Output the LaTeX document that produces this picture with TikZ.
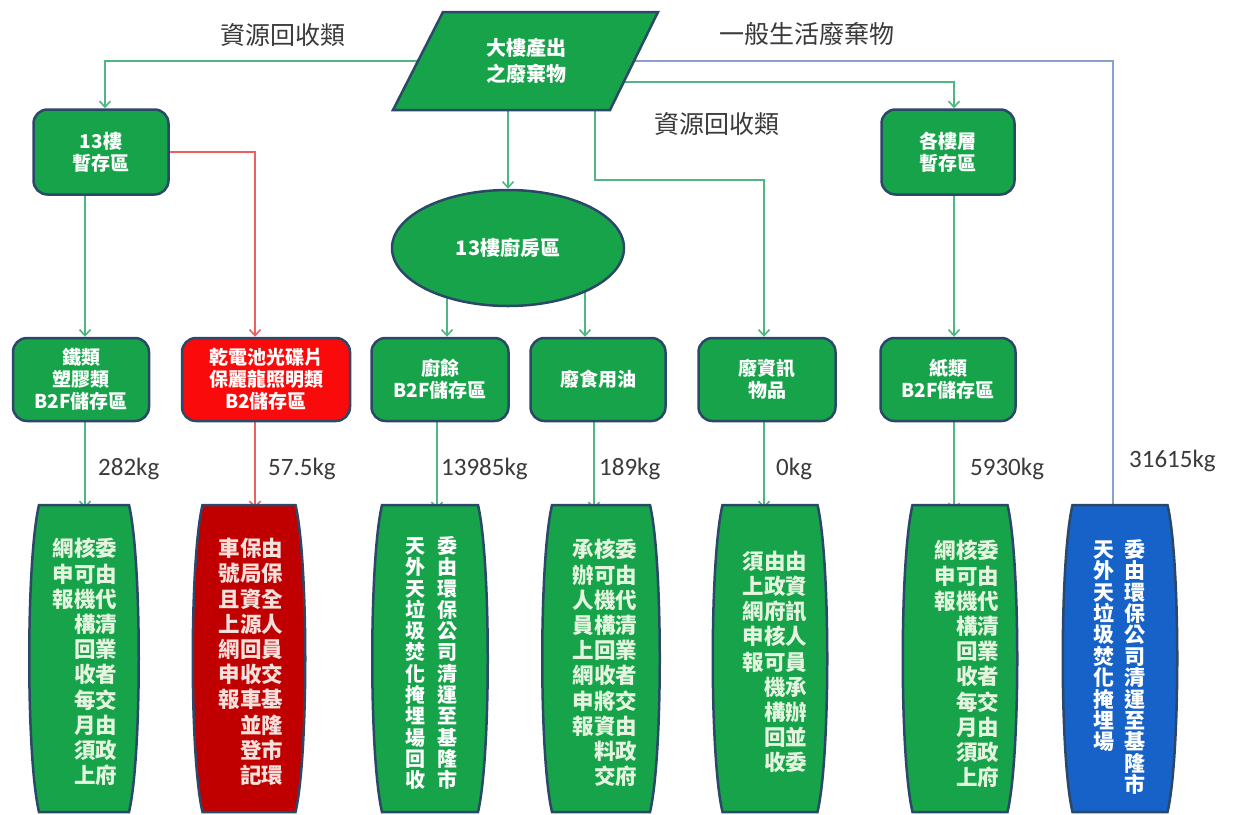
\documentclass[tikz,border=0pt]{standalone}
\usepackage{fontspec}
\setmainfont{Carlito}
\newfontfamily\cjk{Noto Sans CJK TC}
\usetikzlibrary{shapes.geometric,arrows.meta,backgrounds}
\definecolor{gfill}{RGB}{22,163,74}
\definecolor{bord}{RGB}{44,72,104}
\definecolor{glinec}{RGB}{78,182,128}
\definecolor{rlinec}{RGB}{238,96,96}
\definecolor{blinec}{RGB}{138,160,205}
\definecolor{rfill}{RGB}{250,10,10}
\definecolor{drfill}{RGB}{192,0,0}
\definecolor{bfill}{RGB}{22,98,200}
\definecolor{lbl}{RGB}{58,58,58}
\definecolor{paletxt}{RGB}{228,244,222}
\definecolor{paletxtr}{RGB}{246,224,220}
\newcommand\barrelpath[3]{%
  \filldraw[barrel, fill=#3] ({#1-#2/2+10},505) -- ({#1+#2/2-10},505)
    .. controls ({#1+#2/2+3},560) and ({#1+#2/2+3},757) .. ({#1+#2/2-10},812)
    -- ({#1-#2/2+10},812)
    .. controls ({#1-#2/2-3},757) and ({#1-#2/2-3},560) .. ({#1-#2/2+10},505)
    -- cycle;}
\begin{document}
\begin{tikzpicture}[x=1pt,y=-1pt,
  box/.style={draw=bord,line width=2.5pt,fill=gfill,rounded corners=14pt,text=white,align=center,inner sep=0pt,font=\cjk\bfseries\fontsize{19}{22}\selectfont},
  barrel/.style={draw=bord,line width=2.5pt},
  conn/.style={line width=1.6pt,-{Straight Barb[length=6pt,width=11pt]}},
  gconn/.style={conn,draw=glinec},
  rconn/.style={conn,draw=rlinec},
  bconn/.style={conn,draw=blinec},
  kg/.style={anchor=west,inner sep=0pt,text=lbl,font=\fontsize{25}{28}\selectfont},
  cat/.style={text=lbl,inner sep=0pt,font=\cjk\fontsize{25}{28}\selectfont},
  vtext/.style={align=right,inner sep=0pt,minimum height=307pt,font=\cjk\bfseries\fontsize{21.5}{25.2}\selectfont},
  vtwo/.style={align=right,inner sep=0pt,minimum height=307pt,text=white,font=\cjk\bfseries\fontsize{20}{21.3}\selectfont},
]
\useasboundingbox (0,0) rectangle (1233,814);

% column coordinates
\coordinate (cT) at (105,0);
\coordinate (cA) at (85,0);
\coordinate (cB) at (255,0);
\coordinate (cC) at (437,0);
\coordinate (cCk) at (447,0);
\coordinate (cDk) at (585,0);
\coordinate (cD) at (594,0);
\coordinate (cE) at (764,0);
\coordinate (cF) at (954,0);
\coordinate (cG) at (1113,0);
\coordinate (cK) at (595,180);

% category labels
\node[cat] (L1) at (283,35) {資源回收類};
\node[cat] (L2) at (807,34) {一般生活廢棄物};
\node[cat] (L3) at (717,124) {資源回收類};

% source parallelogram
\filldraw[draw=bord,line width=2.5pt,fill=gfill] (443,12) -- (658,12) -- (610,110) -- (393,110) -- cycle;
\node[align=center,inner sep=0pt,text=white,minimum width=215pt,minimum height=98pt,font=\cjk\bfseries\fontsize{20}{26}\selectfont] (P) at (526,61) {大樓產出\\之廢棄物};

% upper boxes
\node[box,minimum width=135pt,minimum height=85pt] (T13) at (101,152) {13樓\\暫存區};
\node[box,minimum width=133pt,minimum height=85pt] (TF) at (948,152) {各樓層\\暫存區};
\node[draw=bord,line width=2.5pt,fill=gfill,ellipse,minimum width=232pt,minimum height=116pt,inner sep=0pt,text=white,font=\cjk\bfseries\fontsize{20}{24}\selectfont] (K) at (508,248) {13樓廚房區};

% second row
\node[box,minimum width=136pt,minimum height=83pt] (A) at (81,379.5) {鐵類\\塑膠類\\B2F儲存區};
\node[box,fill=rfill,minimum width=168pt,minimum height=83pt] (B) at (266,379.5) {乾電池光碟片\\保麗龍照明類\\B2儲存區};
\node[box,minimum width=137pt,minimum height=83pt] (C) at (440,379.5) {廚餘\\B2F儲存區};
\node[box,minimum width=135pt,minimum height=83pt] (D) at (598,379.5) {廢食用油};
\node[box,minimum width=137pt,minimum height=83pt] (E) at (767,379.5) {廢資訊\\物品};
\node[box,minimum width=135pt,minimum height=83pt] (F) at (948,379.5) {紙類\\B2F儲存區};

% bottom barrels
\barrelpath{84}{110}{gfill}
\barrelpath{249}{113}{drfill}
\barrelpath{430}{116}{gfill}
\barrelpath{601}{118}{gfill}
\barrelpath{770}{115}{gfill}
\barrelpath{960}{115}{gfill}
\barrelpath{1120}{115}{bfill}

\node[vtext,text=paletxt] (B1) at (85,662) {網核委\\申可由\\報機代\\構清\\回業\\收者\\每交\\月由\\須政\\上府};
\node[vtext,text=paletxtr] (B2) at (251,662) {車保由\\號局保\\且資全\\上源人\\網回員\\申收交\\報車基\\並隆\\登市\\記環};
\node[vtwo] (B3) at (431,663) {天\hspace{12pt}委\\外\hspace{12pt}由\\天\hspace{12pt}環\\垃\hspace{12pt}保\\圾\hspace{12pt}公\\焚\hspace{12pt}司\\化\hspace{12pt}清\\掩\hspace{12pt}運\\埋\hspace{12pt}至\\場\hspace{12pt}基\\回\hspace{12pt}隆\\收\hspace{12pt}市};
\node[vtext,text=paletxt] (B4) at (605,663) {承核委\\辦可由\\人機代\\員構清\\上回業\\網收者\\申將交\\報資由\\料政\\交府};
\node[vtext,text=paletxt] (B5) at (775,662) {須由由\\上政資\\網府訊\\申核人\\報可員\\機承\\構辦\\回並\\收委};
\node[vtext,text=paletxt] (B6) at (967,664) {網核委\\申可由\\報機代\\構清\\回業\\收者\\每交\\月由\\須政\\上府};
\node[vtwo,font=\cjk\bfseries\fontsize{21}{21.4}\selectfont] (B7) at (1119,667) {天\hspace{10pt}委\\外\hspace{10pt}由\\天\hspace{10pt}環\\垃\hspace{10pt}保\\圾\hspace{10pt}公\\焚\hspace{10pt}司\\化\hspace{10pt}清\\掩\hspace{10pt}運\\埋\hspace{10pt}至\\場\hspace{10pt}基\\隆\\市};

% weight labels
\node[kg] (W1) at (98,469) {282kg};
\node[kg] (W2) at (268,469) {57.5kg};
\node[kg] (W3) at (441,469) {13985kg};
\node[kg] (W4) at (599,469) {189kg};
\node[kg] (W5) at (776,469) {0kg};
\node[kg] (W6) at (970,469) {5930kg};
\node[kg] (W7) at (1129,461) {31615kg};

% connectors
\begin{scope}[on background layer]
\draw[gconn] (P.center) -| (cT |- T13.north);
\draw[bconn] (P.center) -| (cG |- B7.north);
\draw[gconn] ([yshift=-21pt]P.center) -| (cF |- TF.north);
\draw[gconn] (K.north |- P.south) -- (K.north);
\draw[gconn] (cK |- P.south) -- (cK) -| (cE |- E.north);
\draw[gconn] (cA |- T13.south) -- (cA |- A.north);
\draw[rconn] (T13.east) -| (cB |- B.north);
\draw[gconn] (cCk |- K.center) -- (cCk |- C.north);
\draw[gconn] (cDk |- K.center) -- (cDk |- D.north);
\draw[gconn] (cF |- TF.south) -- (cF |- F.north);
\draw[gconn] (cA |- A.south) -- (cA |- B1.north);
\draw[rconn] (cB |- B.south) -- (cB |- B2.north);
\draw[gconn] (cC |- C.south) -- (cC |- B3.north);
\draw[gconn] (cD |- D.south) -- (cD |- B4.north);
\draw[gconn] (cE |- E.south) -- (cE |- B5.north);
\draw[gconn] (cF |- F.south) -- (cF |- B6.north);
\end{scope}
\end{tikzpicture}
\end{document}
